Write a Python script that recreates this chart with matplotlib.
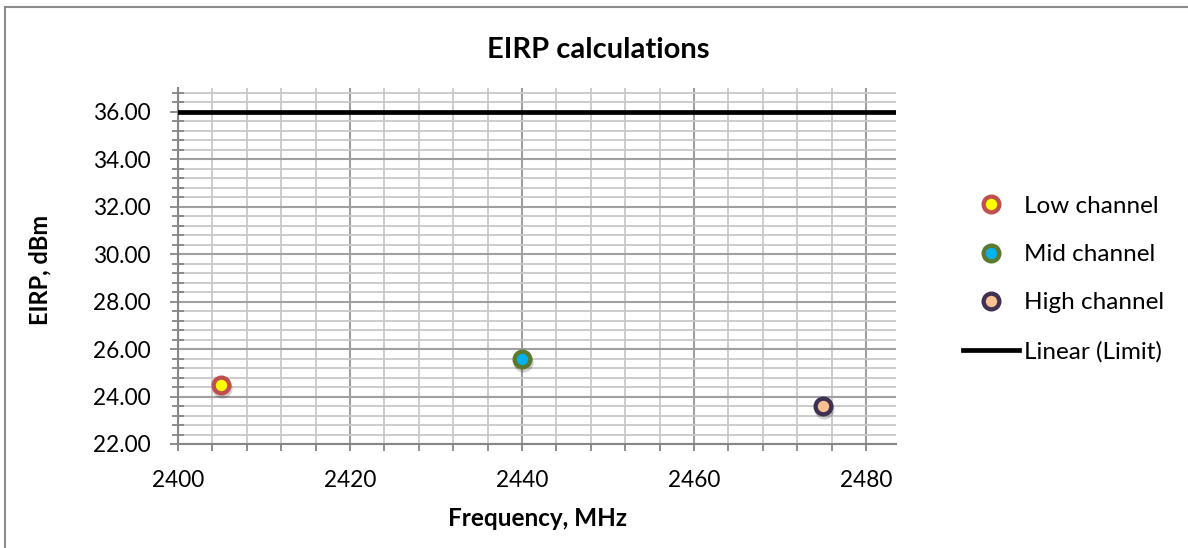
import matplotlib
matplotlib.use("Agg")
import matplotlib.pyplot as plt
from matplotlib.lines import Line2D
from matplotlib.ticker import MultipleLocator, FormatStrFormatter
from matplotlib.transforms import offset_copy

plt.rcParams['font.family'] = ['Lato', 'DejaVu Sans']

# Measured EIRP per channel
series_names = ["Low channel", "Mid channel", "High channel"]
frequencies_mhz = [2405, 2440, 2475]
eirp_dbm = [24.5, 25.6, 23.6]

# Regulatory limit
limit_dbm = 36.0
limit_label = "Linear (Limit)"

face_colors = ["#FFFF00", "#00B0F0", "#FAC090"]
edge_colors = ["#C0504D", "#5B7A2E", "#3F3151"]

fig = plt.figure(figsize=(11.88, 5.48), dpi=100)
ax = fig.add_axes([178 / 1188, 104 / 548, 718 / 1188, 356 / 548])

ax.set_xlim(2400, 2483.5)
ax.set_ylim(22, 37)

ax.xaxis.set_major_locator(MultipleLocator(20))
ax.xaxis.set_minor_locator(MultipleLocator(4))
ax.yaxis.set_major_locator(MultipleLocator(2))
ax.yaxis.set_minor_locator(MultipleLocator(0.4))
ax.yaxis.set_major_formatter(FormatStrFormatter('%.2f'))

ax.grid(which='minor', color='#C8C8C8', linewidth=1.3)
ax.grid(which='major', color='#A0A0A0', linewidth=1.5)
ax.set_axisbelow(True)

for side in ('top', 'right'):
    ax.spines[side].set_visible(False)
for side in ('left', 'bottom'):
    ax.spines[side].set_color('#868686')
    ax.spines[side].set_linewidth(1.5)

ax.tick_params(axis='both', which='both', colors='#868686', width=1.3, labelcolor='black', labelsize=16.3)
ax.tick_params(axis='x', which='both', direction='out', length=5, pad=14)
ax.tick_params(axis='y', which='major', direction='out', length=6, pad=14)
ax.tick_params(axis='y', which='minor', direction='inout', length=8)

# Limit line across the full frequency span
ax.axhline(limit_dbm, color='black', linewidth=3.4, label=limit_label, zorder=3)

shadow_tf = offset_copy(ax.transData, fig=fig, x=1.5, y=-3, units='dots')
for f, v, name, fc, ec in zip(frequencies_mhz, eirp_dbm, series_names, face_colors, edge_colors):
    ax.plot([f], [v], linestyle='none', marker='o', markersize=14.5, color='#000000',
            alpha=0.18, markeredgewidth=0, transform=shadow_tf, zorder=4)
    ax.plot([f], [v], linestyle='none', marker='o', markersize=11.3, markerfacecolor=fc,
            markeredgecolor=ec, markeredgewidth=3.1, label=name, zorder=5)

handles, labels = ax.get_legend_handles_labels()
order = [1, 2, 3, 0]
fig.legend([handles[i] for i in order], [labels[i] for i in order],
           loc='center left', bbox_to_anchor=(963 / 1188, 1 - 279 / 548),
           frameon=False, fontsize=17.5, handlelength=2.3, handletextpad=0.2,
           labelspacing=1.12, borderpad=0, borderaxespad=0)

fig.text(598 / 1188, 1 - 50 / 548, "EIRP calculations", ha='center', va='center',
         fontsize=21, fontweight='bold')
fig.text(537 / 1188, 1 - 518 / 548, "Frequency, MHz", ha='center', va='center',
         fontsize=17.5, fontweight='bold')
fig.text(40 / 1188, 1 - 270 / 548, "EIRP, dBm", ha='center', va='center',
         rotation=90, fontsize=17, fontweight='bold')

# Chart frame
fig.add_artist(Line2D([5 / 1188, 5 / 1188], [0, 1 - 7 / 548], transform=fig.transFigure,
                      color='#8C8C8C', linewidth=1.5))
fig.add_artist(Line2D([5 / 1188, 1], [1 - 7 / 548, 1 - 7 / 548], transform=fig.transFigure,
                      color='#8C8C8C', linewidth=1.5))

fig.savefig("out.png", dpi=100)
